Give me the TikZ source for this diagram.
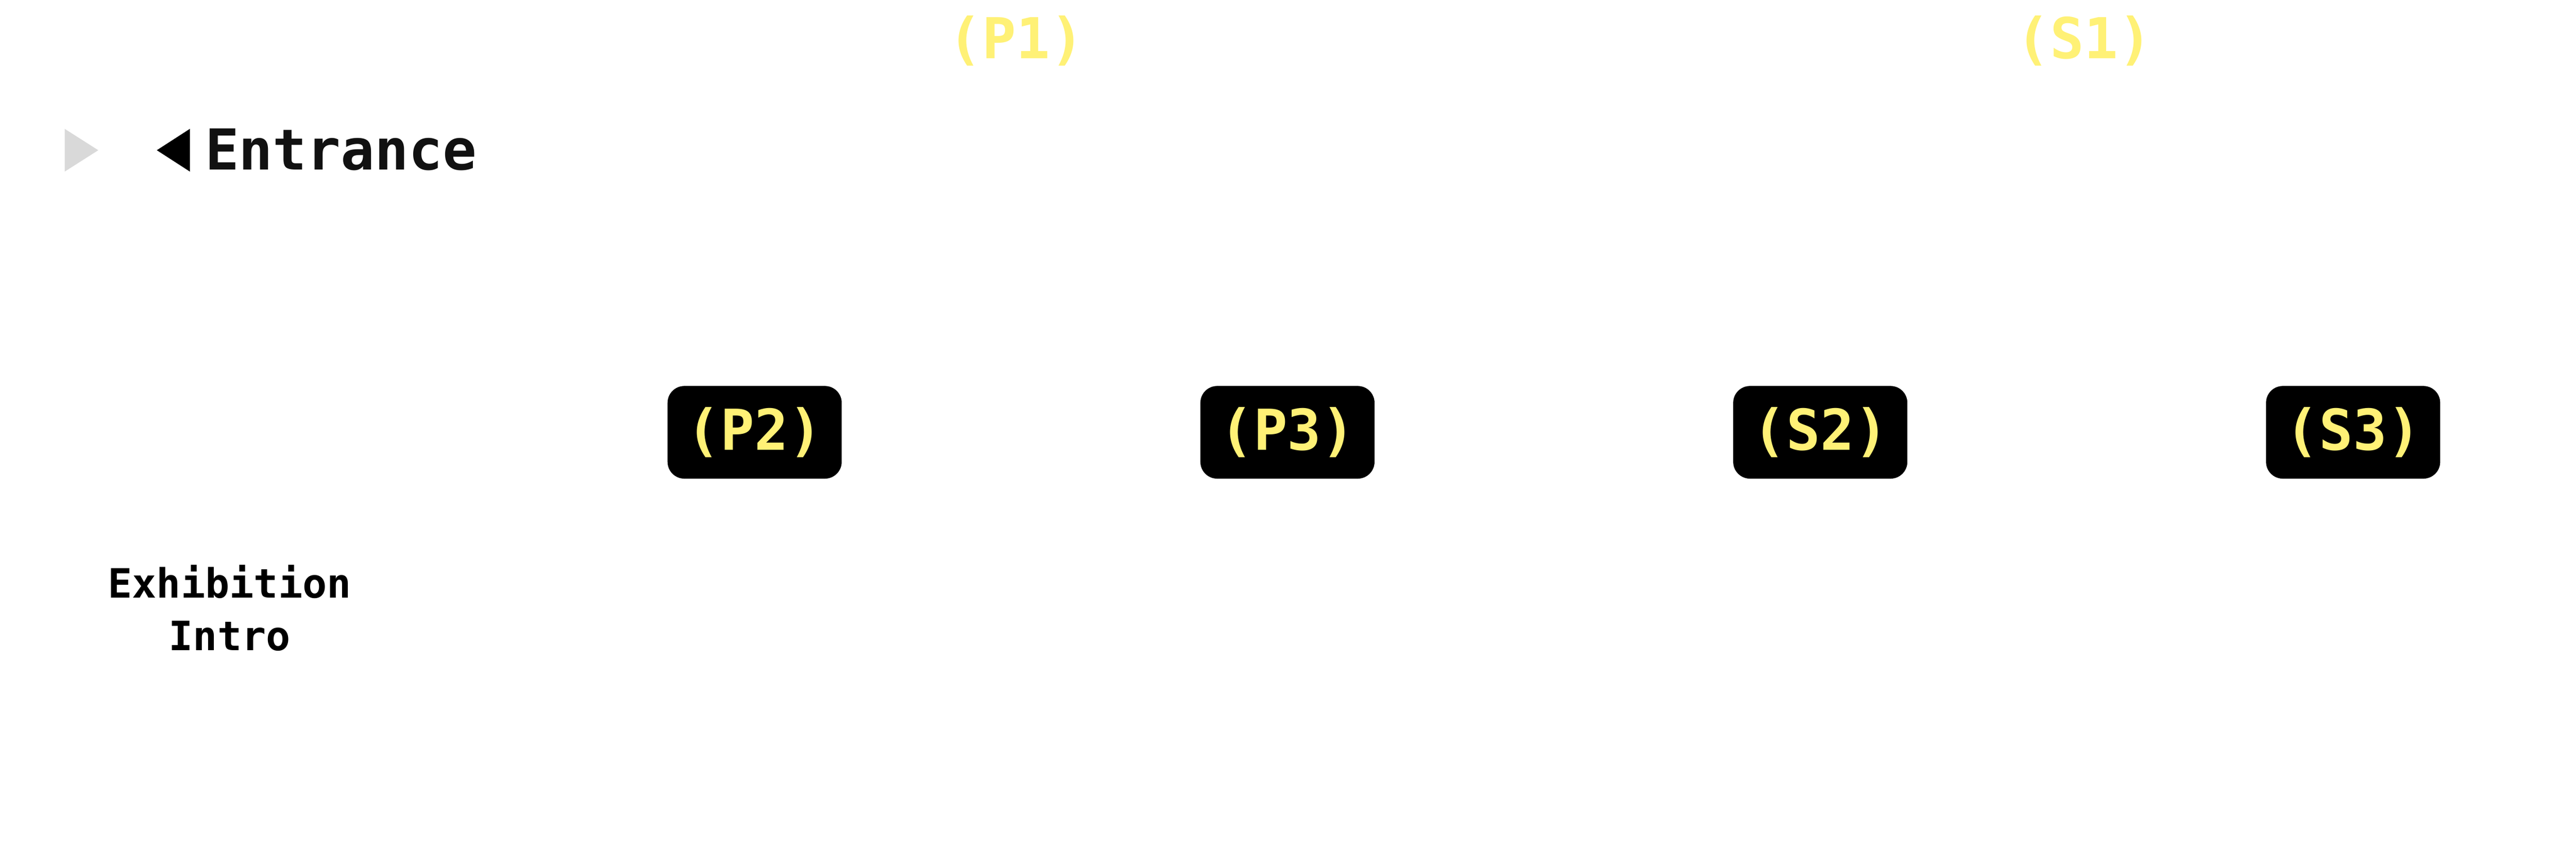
\documentclass[tikz,border=0pt]{standalone}
\usepackage{fontspec}
\setmonofont{DejaVu Sans Mono}
\usepackage{xcolor}
\usepackage{tikz}
\usetikzlibrary{positioning}

\definecolor{signyellow}{HTML}{FFF176}
\definecolor{signgray}{HTML}{D9D9D9}
\definecolor{signink}{HTML}{111111}
\newcommand{\signfont}{\ttfamily\bfseries\fontsize{31.5}{38}\selectfont}
\newcommand{\notefont}{\ttfamily\bfseries\fontsize{22.6}{29.6}\selectfont}

\begin{document}
\begin{tikzpicture}
 [stop/.style={rectangle,rounded corners=3.3mm,fill=black,text=signyellow,
               minimum width=3.42cm,minimum height=1.82cm,font=\signfont},
  zone/.style={text=signyellow,font=\signfont,anchor=base,inner sep=0pt},
  sign/.style={text=signink,font=\signfont,anchor=base west,inner sep=0pt},
  note/.style={text=black,font=\notefont,align=center,inner sep=0pt}]
 \useasboundingbox (0,0) rectangle (50.59,-16.96);

 % entrance
 \fill[signgray] (1.27,-2.53) -- (1.27,-3.37) -- (1.93,-2.95) -- cycle;
 \fill[black]    (3.73,-2.53) -- (3.73,-3.37) -- (3.08,-2.95) -- cycle;
 \node[sign] (entrance) at (4.02,-3.33) {Entrance};

 % stops
 \node[stop] (p2) at (14.82,-8.49)    {(P2)};
 \node[stop] (p3) [right=7.03 of p2]  {(P3)};
 \node[stop] (s2) [right=7.03 of p3]  {(S2)};
 \node[stop] (s3) [right=7.03 of s2]  {(S3)};

 \node[zone] (p1) at (19.96,-1.15) {(P1)};
 \node[zone] (s1) at (40.93,-1.15) {(S1)};

 \node[note] (intro) at (4.51,-11.94) {Exhibition\\Intro};
\end{tikzpicture}
\end{document}
